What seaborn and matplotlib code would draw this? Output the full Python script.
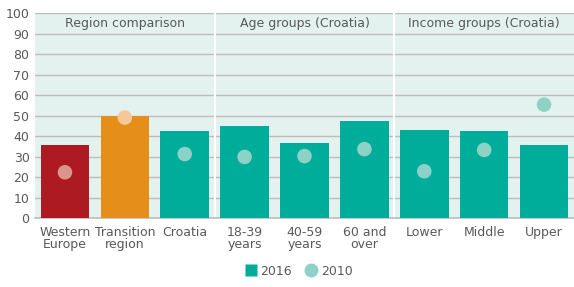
import matplotlib
matplotlib.use("Agg")
import matplotlib.pyplot as plt
import seaborn as sns
import pandas as pd
from matplotlib.lines import Line2D

categories = ["Western\nEurope", "Transition\nregion", "Croatia", "18-39\nyears",
              "40-59\nyears", "60 and\nover", "Lower", "Middle", "Upper"]
values_2016 = [35.5, 50.0, 42.5, 45.0, 36.5, 47.5, 43.0, 42.5, 35.5]
values_2010 = [22.3, 49.0, 31.2, 29.8, 30.2, 33.6, 22.8, 33.2, 55.3]
groups = ["Region comparison", "Age groups (Croatia)", "Income groups (Croatia)"]
group_spans = [(0, 2), (3, 5), (6, 8)]

bar_colors = ["#AD1A22", "#E58E1A"] + ["#00AC9A"] * 7
dot_colors = ["#DA968B", "#F6C898"] + ["#8DD2C6"] * 7

sns.set_theme(style="white")
plt.rcParams['font.family'] = ['Liberation Sans Narrow', 'DejaVu Sans']

fig = plt.figure(figsize=(5.74, 2.87), dpi=100)
ax = fig.add_axes([0.061, 0.2404, 0.939, 0.7143])
ax.set_facecolor("#E4F2EF")

df = pd.DataFrame({"cat": categories, "v16": values_2016, "v10": values_2010})
sns.barplot(data=df, x="cat", y="v16", hue="cat", palette=bar_colors,
            legend=False, width=0.81, saturation=1, linewidth=0, ax=ax, zorder=3)
sns.scatterplot(data=df, x="cat", y="v10", hue="cat", palette=dot_colors,
                legend=False, s=110, linewidth=0, edgecolor="none", ax=ax, zorder=4)

ax.set_xlim(-0.5, 8.5)
ax.set_ylim(0, 100)
ax.set_yticks(range(0, 101, 10))
ax.yaxis.grid(True, color="#BDBDBD", linewidth=1, zorder=1)
ax.set_axisbelow(True)
for b in [2.5, 5.5]:
    ax.axvline(b, color="white", linewidth=1.5, zorder=2)

for g, (a, b) in zip(groups, group_spans):
    ax.text((a + b) / 2, 95, g, ha="center", va="center", fontsize=9, color="#595959", zorder=5)

for s in ["left", "right", "top"]:
    ax.spines[s].set_visible(False)
ax.spines["bottom"].set_color("#BDBDBD")
ax.spines["bottom"].set_linewidth(1.2)

ax.set_xticks(range(len(categories)))
ax.set_xticklabels(categories, fontsize=9, color="#595959", linespacing=0.85)
ax.set_xticks([i + 0.5 for i in range(-1, 9)], minor=True)
ax.tick_params(axis="x", which="major", length=0, pad=6)
ax.tick_params(axis="x", which="minor", length=6, color="#BDBDBD", width=1.2)
ax.tick_params(axis="y", length=0, labelsize=9, labelcolor="#595959", pad=4)
ax.set_xlabel("")
ax.set_ylabel("")

handles = [Line2D([0], [0], marker="s", color="none", markerfacecolor="#00AC9A",
                  markeredgecolor="none", markersize=8, label="2016"),
           Line2D([0], [0], marker="o", color="none", markerfacecolor="#8DD2C6",
                  markeredgecolor="none", markersize=10, label="2010")]
leg = fig.legend(handles=handles, loc="center", bbox_to_anchor=(0.52, 0.055), ncol=2,
                 frameon=False, fontsize=9, handletextpad=0.3, columnspacing=1.0,
                 handlelength=1.0)
for t in leg.get_texts():
    t.set_color("#595959")

fig.savefig("out.png", dpi=100)
